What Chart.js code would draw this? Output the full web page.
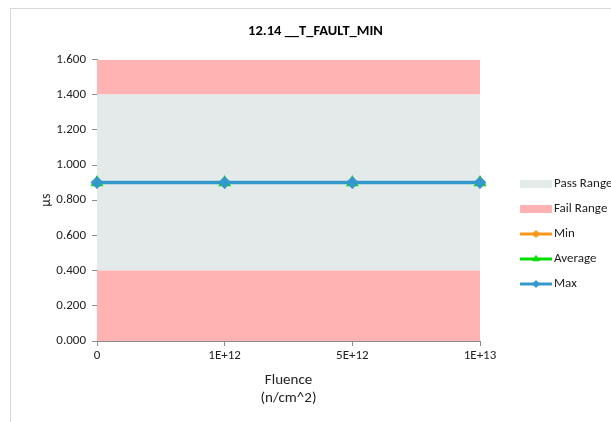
<!DOCTYPE html>
<html>
<head>
<meta charset="utf-8">
<title>12.14 __T_FAULT_MIN</title>
<script src="https://cdn.jsdelivr.net/npm/chart.js@4.4.1/dist/chart.umd.min.js"></script>
<style>
    html, body { margin: 0; padding: 0; background: #fff; }
    #wrap { width: 611px; height: 422px; position: relative; }
</style>
</head>
<body>
<div id="wrap"><canvas id="faultChart"></canvas></div>
<script>
// chart data
const fluenceLabels = ['0', '1E+12', '5E+12', '1E+13'];
const failLow = [0.4, 0.4, 0.4, 0.4];
const passHigh = [1.4, 1.4, 1.4, 1.4];
const failHigh = [1.6, 1.6, 1.6, 1.6];
const minValues = [0.9, 0.9, 0.9, 0.9];
const avgValues = [0.9, 0.9, 0.9, 0.9];
const maxValues = [0.9, 0.9, 0.9, 0.9];
const yTicks = [0, 0.2, 0.4, 0.6, 0.8, 1.0, 1.2, 1.4, 1.6];

const passColor = '#E4EAEA';
const failColor = '#FFB3B3';
const minColor = '#F7981D';
const avgColor = '#00DD00';
const maxColor = '#3399CC';
const fontFamily = 'Carlito, Lato, "Liberation Sans", sans-serif';

// frame around the whole chart, like the excel chart border
const framePlugin = {
    id: 'frame',
    beforeDraw(chart) {
        const ctx = chart.ctx;
        ctx.save();
        ctx.fillStyle = '#fff';
        ctx.fillRect(0, 0, chart.width, chart.height);
        ctx.strokeStyle = '#D9D9D9';
        ctx.lineWidth = 1;
        ctx.strokeRect(10.5, 8.5, 700, 500);
        ctx.restore();
    }
};

// legend on the right: two boxes then three line+marker entries
const sideLegend = {
    id: 'sideLegend',
    afterDraw(chart) {
        const ctx = chart.ctx;
        const x0 = 520, x1 = 552, tx = 554;
        const items = [
            { text: 'Pass Range', type: 'box', color: passColor, y: 184 },
            { text: 'Fail Range', type: 'box', color: failColor, y: 209 },
            { text: 'Min', type: 'line', color: minColor, marker: 'rectRot', y: 234 },
            { text: 'Average', type: 'line', color: avgColor, marker: 'triangle', y: 259 },
            { text: 'Max', type: 'line', color: maxColor, marker: 'rectRot', y: 284 }
        ];
        ctx.save();
        items.forEach(item => {
            if (item.type === 'box') {
                ctx.fillStyle = item.color;
                ctx.fillRect(x0, item.y - 4, x1 - x0, 8);
            } else {
                ctx.strokeStyle = item.color;
                ctx.lineWidth = 3;
                ctx.beginPath();
                ctx.moveTo(x0, item.y);
                ctx.lineTo(x1, item.y);
                ctx.stroke();
                ctx.fillStyle = item.color;
                ctx.lineWidth = 1;
                Chart.helpers.drawPoint(ctx, { pointStyle: item.marker, radius: 3.5, borderWidth: 1 }, (x0 + x1) / 2, item.y);
            }
            ctx.fillStyle = '#222';
            ctx.font = '13px ' + fontFamily;
            ctx.textBaseline = 'middle';
            ctx.textAlign = 'left';
            ctx.fillText(item.text, tx, item.y);
        });
        ctx.restore();
    }
};

document.addEventListener('DOMContentLoaded', function() {
    const ctx = document.getElementById('faultChart').getContext('2d');

    new Chart(ctx, {
        type: 'line',
        data: {
            labels: fluenceLabels,
            datasets: [{
                label: 'Fail Range',
                data: failLow,
                backgroundColor: failColor,
                borderWidth: 0,
                pointRadius: 0,
                fill: 'origin',
                order: 10
            }, {
                label: 'Pass Range',
                data: passHigh,
                backgroundColor: passColor,
                borderWidth: 0,
                pointRadius: 0,
                fill: '-1',
                order: 10
            }, {
                label: 'Fail Range',
                data: failHigh,
                backgroundColor: failColor,
                borderWidth: 0,
                pointRadius: 0,
                fill: '-1',
                order: 10
            }, {
                label: 'Min',
                data: minValues,
                borderColor: minColor,
                backgroundColor: minColor,
                borderWidth: 3,
                pointStyle: 'rectRot',
                pointRadius: 4,
                fill: false,
                clip: false,
                order: 3
            }, {
                label: 'Average',
                data: avgValues,
                borderColor: avgColor,
                backgroundColor: avgColor,
                borderWidth: 3,
                pointStyle: 'triangle',
                pointRadius: 4.5,
                fill: false,
                clip: false,
                order: 2
            }, {
                label: 'Max',
                data: maxValues,
                borderColor: maxColor,
                backgroundColor: maxColor,
                borderWidth: 3.5,
                pointStyle: 'rectRot',
                pointRadius: 4,
                fill: false,
                clip: false,
                order: 1
            }]
        },
        options: {
            responsive: true,
            maintainAspectRatio: false,
            animation: false,
            layout: {
                // chart box is wider than the window, title centres on it
                padding: { left: 10, right: -10, top: 0, bottom: 0 }
            },
            plugins: {
                legend: { display: false },
                tooltip: { enabled: false },
                title: {
                    display: true,
                    text: '12.14 __T_FAULT_MIN',
                    color: '#000',
                    font: { family: fontFamily, size: 14.5, weight: 'bold' },
                    padding: { top: 23, bottom: 19 }
                }
            },
            scales: {
                x: {
                    offset: false,
                    afterFit: function(scale) { scale.height = 81; },
                    grid: {
                        drawOnChartArea: false,
                        drawTicks: true,
                        tickLength: 5,
                        color: '#8C8C8C'
                    },
                    border: { color: '#8C8C8C' },
                    ticks: {
                        color: '#222',
                        padding: 2,
                        maxRotation: 0,
                        font: { family: fontFamily, size: 13 }
                    },
                    title: {
                        display: true,
                        text: ['Fluence', '(n/cm^2)'],
                        color: '#222',
                        font: { family: fontFamily, size: 15, lineHeight: 1.2 },
                        padding: { top: 0, bottom: 15 }
                    }
                },
                y: {
                    min: 0,
                    max: 1.6,
                    afterFit: function(scale) { scale.width = 87; },
                    afterBuildTicks: function(scale) {
                        scale.ticks = yTicks.map(v => ({ value: v }));
                    },
                    grid: {
                        drawOnChartArea: false,
                        drawTicks: true,
                        tickLength: 5,
                        color: '#8C8C8C'
                    },
                    border: { color: '#8C8C8C' },
                    ticks: {
                        color: '#222',
                        padding: 6,
                        font: { family: fontFamily, size: 13 },
                        callback: function(value) { return Number(value).toFixed(3); }
                    },
                    title: {
                        display: true,
                        text: 'µs',
                        color: '#222',
                        font: { family: fontFamily, size: 14 },
                        padding: { top: 28, bottom: 0 }
                    }
                },
                // empty right axis that keeps room for the legend
                legendSpace: {
                    type: 'linear',
                    position: 'right',
                    afterFit: function(scale) { scale.width = 141; },
                    grid: { display: false },
                    border: { display: false },
                    ticks: { display: false }
                }
            }
        },
        plugins: [framePlugin, sideLegend]
    });
});
</script>
</body>
</html>
